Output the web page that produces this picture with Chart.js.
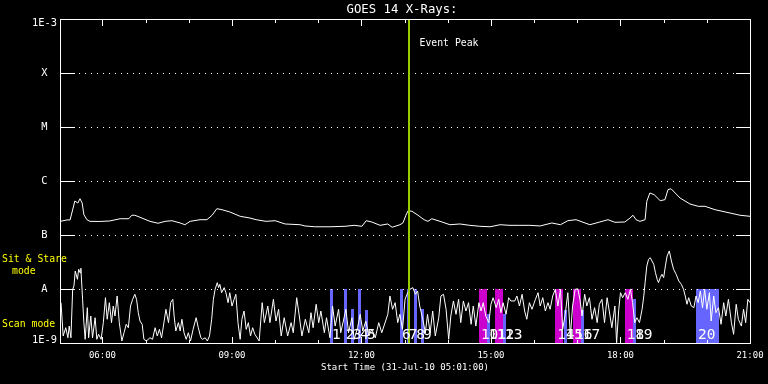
<!DOCTYPE html>
<html><head><meta charset="utf-8">
<script src="https://cdn.jsdelivr.net/npm/chart.js@4.4.1/dist/chart.umd.min.js"></script>
<style>html,body{margin:0;padding:0;background:#000;}#wrap{width:768px;height:384px;}</style>
</head><body><div id="wrap"><canvas id="c" width="768" height="384"></canvas></div>
<script>
// ---- data (times in decimal hours UT, flux in W/m^2 units as noted) ----
const chartTitle = 'GOES 14 X-Rays:';
const xAxisTitle = 'Start Time (31-Jul-10 05:01:00)';
const xMinHour = 5 + 1/60;
const xMaxHour = 21;
const xTickHours = [6, 9, 12, 15, 18, 21];
const yLevels = [1e-9, 1e-8, 1e-7, 1e-6, 1e-5, 1e-4, 1e-3];
const yLevelLabels = ['1E-9', 'A', 'B', 'C', 'M', 'X', '1E-3'];

// long channel (1-8 A), flux in 1e-7 W/m^2
const upTimes = [5.02,5.18,5.25,5.32,5.36,5.43,5.48,5.53,5.57,5.64,
 5.71,5.94,6.17,6.41,6.61,6.68,6.75,6.87,7.10,7.29,
 7.45,7.61,7.80,7.91,8.03,8.26,8.42,8.54,8.65,8.77,
 8.95,9.19,9.42,9.56,9.79,10.00,10.23,10.58,10.69,10.92,
 11.27,11.62,11.83,12.01,12.11,12.24,12.43,12.61,12.71,12.89,
 12.96,13.03,13.08,13.17,13.31,13.45,13.54,13.63,13.82,14.05,
 14.28,14.51,14.74,14.98,15.21,15.44,15.67,15.90,16.14,16.41,
 16.61,16.78,16.97,17.18,17.29,17.52,17.71,17.87,18.10,18.22,
 18.29,18.36,18.45,18.57,18.61,18.68,18.78,18.92,19.03,19.10,
 19.17,19.29,19.38,19.61,19.80,19.96,20.19,20.54,20.77,21.00];
const upFluxE7 = [1.79,1.90,1.90,3.16,4.26,3.91,4.70,3.91,2.38,1.92,
 1.79,1.78,1.82,2.00,2.00,2.32,2.32,2.13,1.79,1.65,
 1.79,1.84,1.67,1.55,1.79,1.92,1.92,2.32,3.07,2.94,
 2.67,2.22,2.06,1.92,1.79,1.84,1.60,1.55,1.47,1.42,
 1.42,1.45,1.51,1.45,1.84,1.74,1.51,1.60,1.39,1.55,
 1.67,2.32,2.82,2.75,2.32,1.92,1.79,2.00,1.79,1.55,
 1.60,1.51,1.45,1.42,1.55,1.51,1.51,1.51,1.47,1.67,
 1.55,1.84,1.92,1.67,1.55,1.74,1.92,1.72,1.74,2.06,
 2.32,1.92,1.79,1.92,4.21,6.00,5.58,4.32,4.51,6.90,
 7.20,5.74,4.84,3.75,3.40,3.40,2.94,2.55,2.32,2.22];

// short channel (0.5-4 A), flux in 1e-9 W/m^2
const lowTimes = [5.04,5.09,5.15,5.20,5.23,5.27,5.31,5.34,5.37,5.42,
 5.45,5.48,5.50,5.54,5.57,5.60,5.65,5.68,5.73,5.77,
 5.83,5.87,5.91,5.97,6.02,6.07,6.11,6.16,6.21,6.25,
 6.29,6.34,6.39,6.45,6.50,6.55,6.60,6.65,6.70,6.75,
 6.79,6.83,6.87,6.92,6.96,7.02,7.10,7.16,7.22,7.27,
 7.32,7.37,7.43,7.47,7.53,7.58,7.63,7.66,7.70,7.76,
 7.80,7.84,7.89,7.94,7.99,8.04,8.10,8.17,8.22,8.28,
 8.32,8.38,8.43,8.48,8.53,8.57,8.61,8.66,8.69,8.72,
 8.76,8.82,8.86,8.91,8.95,9.00,9.05,9.09,9.14,9.19,
 9.23,9.28,9.33,9.38,9.43,9.48,9.53,9.63,9.70,9.75,
 9.83,9.88,9.96,10.02,10.08,10.14,10.21,10.29,10.37,10.42,
 10.50,10.56,10.62,10.70,10.78,10.83,10.88,10.95,11.01,11.06,
 11.14,11.19,11.27,11.33,11.39,11.47,11.52,11.58,11.64,11.70,
 11.78,11.83,11.91,11.97,12.03,12.10,12.17,12.24,12.32,12.40,
 12.47,12.61,12.66,12.72,12.78,12.84,12.89,12.95,13.01,13.07,
 13.12,13.19,13.25,13.30,13.35,13.42,13.48,13.53,13.59,13.65,
 13.71,13.79,13.84,13.90,13.96,14.02,14.07,14.13,14.19,14.25,
 14.30,14.36,14.42,14.48,14.54,14.59,14.65,14.72,14.77,14.82,
 14.88,14.95,15.00,15.05,15.12,15.18,15.23,15.28,15.35,15.41,
 15.46,15.55,15.60,15.66,15.72,15.78,15.83,15.89,15.95,16.03,
 16.09,16.14,16.20,16.26,16.32,16.37,16.43,16.49,16.55,16.61,
 16.66,16.72,16.78,16.84,16.89,16.95,17.01,17.06,17.11,17.17,
 17.22,17.28,17.34,17.40,17.46,17.51,17.57,17.63,17.69,17.74,
 17.80,17.87,17.91,17.96,18.00,18.05,18.11,18.17,18.23,18.28,
 18.33,18.38,18.44,18.50,18.54,18.57,18.61,18.65,18.69,18.73,
 18.77,18.81,18.85,18.88,18.92,18.96,19.00,19.04,19.08,19.13,
 19.18,19.23,19.29,19.35,19.41,19.46,19.50,19.54,19.58,19.64,
 19.70,19.75,19.80,19.85,19.90,19.95,20.00,20.06,20.10,20.16,
 20.21,20.27,20.33,20.39,20.44,20.50,20.57,20.62,20.68,20.73,
 20.80,20.85,20.90,20.95,21.00];
const lowFluxE9 = [5.58,1.35,1.92,1.25,2.06,1.25,9.87,11.4,21.5,15.1,
 23.2,20.0,24.2,6.44,2.38,1.17,4.51,1.25,3.16,1.25,
 2.94,1.17,1.45,1.17,2.38,6.90,2.75,5.58,2.38,4.84,
 3.16,7.42,2.38,1.09,1.55,2.22,1.92,4.84,6.44,7.98,
 6.44,3.64,2.55,2.22,1.17,1.09,1.25,1.17,1.92,1.35,
 1.79,1.25,2.55,4.21,2.38,5.58,6.44,3.16,1.67,2.38,
 1.67,2.75,1.55,1.17,1.55,1.09,1.79,2.94,1.92,1.25,
 1.17,1.25,1.09,1.35,2.75,6.44,9.87,13.1,10.6,12.2,
 8.54,10.6,8.54,5.58,8.54,4.84,6.44,7.98,2.38,1.17,
 2.75,3.91,1.79,2.38,1.35,1.92,1.45,1.09,5.58,2.38,
 4.84,2.38,6.44,2.55,4.21,1.35,2.94,1.35,2.38,1.55,
 6.90,3.16,1.35,2.75,1.55,3.64,1.92,5.21,2.38,3.91,
 1.55,2.94,1.25,4.84,2.06,4.21,1.55,2.55,4.21,1.55,
 2.94,1.17,1.92,3.40,1.67,2.55,1.35,1.79,1.25,2.38,
 1.55,3.40,7.42,4.21,5.58,2.38,3.40,1.79,6.44,8.54,
 9.87,10.6,7.98,9.18,4.84,2.75,1.55,3.40,1.55,3.91,
 1.35,2.94,7.42,7.98,4.21,1.17,3.16,6.00,3.40,6.44,
 2.38,6.00,3.91,5.58,2.22,4.84,2.06,5.58,3.91,5.58,
 3.16,2.38,5.21,6.90,4.51,6.44,3.64,5.58,3.40,6.90,
 6.00,6.00,7.42,4.84,7.98,3.91,2.75,5.58,4.21,6.44,
 8.54,4.84,6.90,3.91,5.58,4.21,7.42,9.87,4.84,9.87,
 1.79,3.40,8.54,1.35,4.84,9.87,10.1,6.44,3.16,7.98,
 4.84,6.90,2.75,4.51,2.38,5.21,6.44,2.38,6.90,3.91,
 1.92,4.84,1.01,4.21,8.54,6.90,8.54,6.44,9.87,5.58,
 2.38,2.94,2.38,4.21,7.42,13.1,26.7,35.5,38.0,33.0,
 28.7,20.0,15.1,13.1,16.2,18.7,16.2,26.7,40.8,50.6,
 33.0,23.2,18.7,14.1,12.2,9.87,7.42,5.21,6.90,4.84,
 4.51,7.42,5.58,9.18,4.51,9.87,4.21,8.54,2.55,7.42,
 3.64,4.51,2.22,5.58,3.16,6.44,2.38,1.45,5.21,2.75,
 2.06,4.21,2.38,6.44,5.58];

// observation windows (numbered 1..20)
const winStart = [11.27,11.59,11.76,11.92,12.08,12.89,13.05,13.22,13.38,14.72,14.90,15.09,15.28,16.49,16.68,16.90,17.08,18.10,18.29,19.75];
const winEnd   = [11.34,11.66,11.82,11.99,12.15,12.96,13.12,13.29,13.45,14.90,14.96,15.28,15.35,16.68,16.74,17.08,17.14,18.29,18.36,20.28];
const winTop   = [1e-8,1e-8,4.2e-9,1e-8,4.0e-9,1e-8,1e-8,1e-8,4.2e-9,1e-8,3.5e-9,1e-8,3.5e-9,1e-8,4.0e-9,1e-8,4.0e-9,1e-8,6.5e-9,1e-8];
const winColor = ['#6666ff','#6666ff','#6666ff','#6666ff','#6666ff','#6666ff','#6666ff','#6666ff','#6666ff',
                  '#cc00cc','#6666ff','#cc00cc','#6666ff','#cc00cc','#6666ff','#cc00cc','#6666ff','#cc00cc','#6666ff','#6666ff'];
const eventPeakHour = 13.09;
const eventLabel = 'Event Peak';
const modeLabels = ['Sit & Stare', 'mode', 'Scan mode'];

// ---- chart ----
const MONO = '"DejaVu Sans Mono", "Liberation Mono", monospace';

const xrayPlugin = {
  id: 'xray',
  beforeDraw(chart) {
    const c = chart.ctx; c.save(); c.fillStyle = '#000'; c.fillRect(0, 0, chart.width, chart.height); c.restore();
  },
  beforeDatasetsDraw(chart) {
    const {ctx, chartArea: a, scales: {x, y}} = chart;
    ctx.save();
    const yb = y.getPixelForValue(yLevels[0]);
    for (let i = 0; i < winStart.length; i++) {
      const x0 = x.getPixelForValue(winStart[i]);
      const x1 = x.getPixelForValue(winEnd[i]);
      const yt = y.getPixelForValue(winTop[i]);
      ctx.fillStyle = winColor[i];
      ctx.fillRect(Math.round(x0), Math.round(yt), Math.max(2, Math.round(x1 - x0)), Math.round(yb - yt));
    }
    ctx.fillStyle = '#fff';
    for (let k = 1; k < yLevels.length - 1; k++) {
      const py = Math.round(y.getPixelForValue(yLevels[k]));
      ctx.fillRect(a.left, py, 15, 1);
      ctx.fillRect(a.right - 14, py, 15, 1);
      for (let px = a.left + 19; px <= a.right - 17; px += 6) ctx.fillRect(px, py, 1, 1);
    }
    ctx.restore();
  },
  afterDatasetsDraw(chart) {
    const {ctx, chartArea: a, scales: {x, y}} = chart;
    ctx.save();
    ctx.fillStyle = '#fff';
    const L = Math.round(a.left), R = Math.round(a.right), T = Math.round(a.top), B = Math.round(a.bottom);
    ctx.fillRect(L, T, R - L + 1, 1);
    ctx.fillRect(L, B, R - L + 1, 1);
    ctx.fillRect(L, T, 1, B - T + 1);
    ctx.fillRect(R, T, 1, B - T + 1);
    for (let h = Math.ceil(xMinHour); h <= xMaxHour; h++) {
      const px = Math.round(x.getPixelForValue(h));
      const len = (h % 3 === 0) ? 7 : 4;
      ctx.fillRect(px, T, 1, len);
      ctx.fillRect(px, B - len + 1, 1, len);
    }
    // event peak
    const ex = Math.round(x.getPixelForValue(eventPeakHour));
    ctx.fillStyle = '#99cc00';
    ctx.fillRect(ex - 1, T + 1, 2, B - T - 1);
    ctx.fillStyle = '#fff';
    ctx.font = '9.8px ' + MONO;
    ctx.textBaseline = 'middle'; ctx.textAlign = 'left';
    ctx.fillText(eventLabel, ex + 10.5, T + 24);
    // window numbers
    ctx.font = '14.5px ' + MONO;
    ctx.textBaseline = 'alphabetic';
    for (let i = 0; i < winStart.length; i++) {
      const x0 = x.getPixelForValue(winStart[i]);
      ctx.fillText(String(i + 1), x0 + 2, B - 4);
    }
    // title
    ctx.font = '12.3px ' + MONO;
    ctx.textAlign = 'center'; ctx.textBaseline = 'middle';
    ctx.fillText(chartTitle, (a.left + a.right) / 2 - 3, 10);
    // y labels
    ctx.font = '10.4px ' + MONO;
    for (let k = 0; k < yLevels.length; k++) {
      let py = y.getPixelForValue(yLevels[k]);
      py = Math.min(Math.max(py + 0.5, T + 4), B - 2.5);
      ctx.fillText(yLevelLabels[k], 44.5, py);
    }
    // mode labels
    const pa = y.getPixelForValue(yLevels[1]);
    ctx.fillStyle = '#ffff00';
    ctx.font = '9.8px ' + MONO;
    ctx.textAlign = 'left';
    ctx.fillText(modeLabels[0], 2, pa - 30);
    ctx.fillText(modeLabels[1], 12, pa - 18);
    ctx.fillText(modeLabels[2], 2, pa + 35);
    ctx.restore();
  }
};

new Chart(document.getElementById('c'), {
  type: 'line',
  data: {
    datasets: [
      { label: 'long', data: upTimes.map((t, i) => ({x: t, y: upFluxE7[i] * 1e-7})),
        borderColor: '#ffffff', borderWidth: 1, pointRadius: 0, tension: 0, fill: false },
      { label: 'short', data: lowTimes.map((t, i) => ({x: t, y: lowFluxE9[i] * 1e-9})),
        borderColor: '#ffffff', borderWidth: 1, pointRadius: 0, tension: 0, fill: false }
    ]
  },
  options: {
    responsive: false, animation: false, devicePixelRatio: 1,
    layout: { padding: { top: 19, right: 18, bottom: 0, left: 0 } },
    plugins: { legend: { display: false }, tooltip: { enabled: false }, title: { display: false } },
    scales: {
      x: {
        type: 'linear', min: xMinHour, max: xMaxHour, bounds: 'data',
        grid: { display: false, drawTicks: false }, border: { display: false },
        afterBuildTicks: s => { s.ticks = xTickHours.map(v => ({value: v})); },
        afterFit: s => { s.height = 41; s.paddingLeft = 0; s.paddingRight = 0; },
        ticks: { color: '#ffffff', autoSkip: false, maxRotation: 0, minRotation: 0, padding: 7,
          font: { family: MONO, size: 9 },
          callback: v => (v < 10 ? '0' : '') + v + ':00' },
        title: { display: true, text: xAxisTitle, color: '#ffffff', font: { family: MONO, size: 9 },
          padding: { top: 0, bottom: 10.6 } }
      },
      y: {
        type: 'logarithmic', min: yLevels[0], max: yLevels[yLevels.length - 1], bounds: 'data',
        grid: { display: false, drawTicks: false }, border: { display: false },
        afterBuildTicks: s => { s.ticks = yLevels.map(v => ({value: v})); },
        afterFit: s => { s.width = 60; s.paddingTop = 0; s.paddingBottom = 0; },
        ticks: { display: false }
      }
    }
  },
  plugins: [xrayPlugin]
});
</script></body></html>
